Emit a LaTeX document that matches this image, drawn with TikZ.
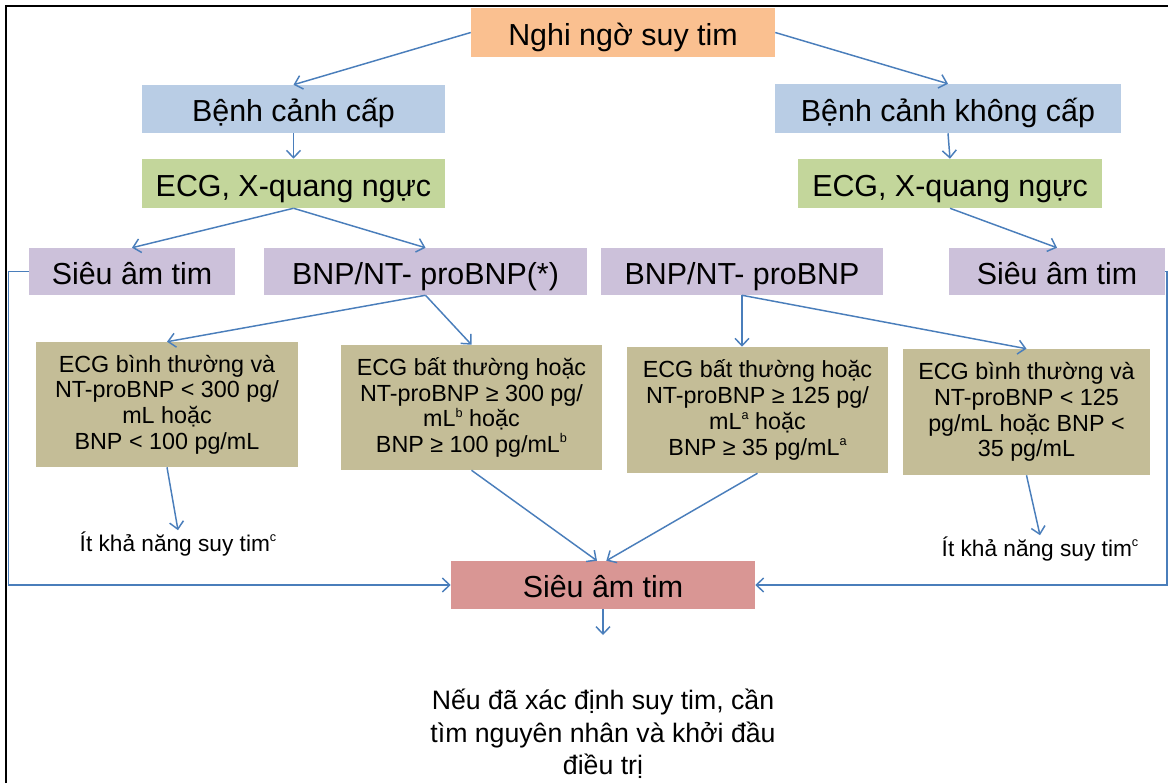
\documentclass[tikz,border=0pt]{standalone}
\usepackage{fontspec}
\setmainfont{Liberation Sans}
\usetikzlibrary{arrows.meta,calc}
\definecolor{corange}{HTML}{FAC090}
\definecolor{cblue}{HTML}{B9CDE5}
\definecolor{cgreen}{HTML}{C3D69B}
\definecolor{cpurple}{HTML}{CCC1DA}
\definecolor{ctan}{HTML}{C4BD97}
\definecolor{cpink}{HTML}{D99694}
\definecolor{carrow}{HTML}{4A7EBB}
\newcommand\mysup[1]{\raisebox{0.42em}{\fontsize{9.5}{9.5}\selectfont #1}}
\begin{document}
\begin{tikzpicture}[x=0.75pt,y=-0.75pt,
  box/.style={rectangle,inner sep=0pt,align=center,text height=22pt,text depth=3.2pt,font=\fontsize{22.8}{27}\selectfont},
  sbox/.style={rectangle,inner sep=0pt,align=center,fill=ctan,font=\fontsize{17.5}{19.3}\selectfont},
  conn/.style={draw=carrow,line width=1.1pt,-{Straight Barb[length=5.5pt,width=10.5pt]}},
  note/.style={inner sep=1pt,align=center,font=\fontsize{17}{20}\selectfont}
]
\useasboundingbox[fill=white] (0,0) rectangle (1168,783);
\draw[line width=1.6pt] (6,783) -- (6,6) -- (1168,6);

\node[box,fill=corange,minimum width=228pt,minimum height=36.75pt] (top) at (623,32.5) {Nghi ngờ suy tim};
\node[box,fill=cblue,minimum width=227.25pt,minimum height=36pt] (bca) at (293.5,109) {Bệnh cảnh cấp};
\node[box,fill=cblue,minimum width=259.5pt,minimum height=36.75pt] (bkc) at (948,108.5) {Bệnh cảnh không cấp};
\node[box,fill=cgreen,minimum width=227.25pt,minimum height=36.75pt] (ecgL) at (293.5,183.5) {ECG, X-quang ngực};
\node[box,fill=cgreen,minimum width=228pt,minimum height=36.75pt] (ecgR) at (950,183.5) {ECG, X-quang ngực};
\node[box,fill=cpurple,minimum width=154.5pt,minimum height=35.25pt] (siaL) at (132,271.5) {Siêu âm tim};
\node[box,fill=cpurple,minimum width=242.25pt,minimum height=35.25pt] (bnpL) at (425.5,271.5) {BNP/NT- proBNP(*)};
\node[box,fill=cpurple,minimum width=211.5pt,minimum height=35.25pt] (bnpR) at (742,271.5) {BNP/NT- proBNP};
\node[box,fill=cpurple,minimum width=162pt,minimum height=35.25pt] (siaR) at (1057,271.5) {Siêu âm tim};

\node[sbox,minimum width=196.5pt,minimum height=93.75pt] (boxA) at (167,404.5) {ECG bình thường và\\NT-proBNP < 300 pg/\\mL hoặc\\BNP < 100 pg/mL};
\node[sbox,minimum width=195.75pt,minimum height=93.75pt] (boxB) at (471.5,407.5) {ECG bất thường hoặc\\NT-proBNP ≥ 300 pg/\\mL\mysup{b} hoặc\\BNP ≥ 100 pg/mL\mysup{b}};
\node[sbox,minimum width=195.75pt,minimum height=94.5pt] (boxC) at (757.5,410) {ECG bất thường hoặc\\NT-proBNP ≥ 125 pg/\\mL\mysup{a} hoặc\\BNP ≥ 35 pg/mL\mysup{a}};
\node[sbox,minimum width=185.25pt,minimum height=94.5pt] (boxD) at (1026.5,412) {ECG bình thường và\\NT-proBNP < 125\\pg/mL hoặc BNP <\\35 pg/mL};

\node[note] (itL) at (178,544) {Ít khả năng suy tim\mysup{c}};
\node[note] (itR) at (1040,549) {Ít khả năng suy tim\mysup{c}};

\node[box,fill=cpink,minimum width=228pt,minimum height=36pt] (pink) at (603,585) {Siêu âm tim};
\coordinate (endc) at (603,635);
\node[inner sep=0pt,align=center,font=\fontsize{20}{24.5}\selectfont] (final) at (603,734) {Nếu đã xác định suy tim, cần\\tìm nguyên nhân và khởi đầu\\điều trị};

\draw[conn] (top.west) -- (bca.north);
\draw[conn] (top.east) -- (bkc.north);
\draw[conn] (bca.south) -- (ecgL.north);
\draw[conn] (bkc.south) -- (ecgR.north);
\draw[conn] (ecgL.south) -- (siaL.north);
\draw[conn] (ecgL.south) -- (bnpL.north);
\draw[conn] (ecgR.south) -- (siaR.north);
\draw[conn] (bnpL.south) -- (boxA.north);
\draw[conn] (bnpL.south) -- (boxB.north);
\draw[conn] (bnpR.south) -- (bnpR.south |- boxC.north);
\draw[conn] (bnpR.south) -- (boxD.north);
\draw[conn] (boxA.south) -- (itL.north);
\draw[conn] (boxD.south) -- (itR.north);
\draw[conn] (boxB.south) -- ([xshift=-4.5pt]pink.north);
\draw[conn] (boxC.south) -- ([xshift=2.5pt]pink.north);
\draw[conn] (pink.south) -- (endc);
\draw[conn] (siaL.west) -- ++(-20,0) |- (pink.west);
\draw[conn] (siaR.east) -- ++(1.5,0) |- (pink.east);
\end{tikzpicture}
\end{document}
